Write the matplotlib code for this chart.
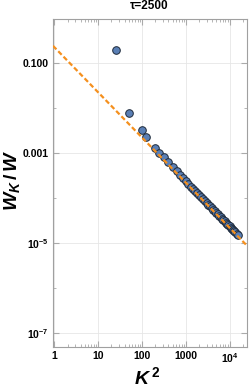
import matplotlib
matplotlib.use("Agg")
import matplotlib.pyplot as plt
import numpy as np
from matplotlib.ticker import FixedLocator, LogLocator, NullFormatter

plt.rcParams["font.family"] = ["Liberation Sans", "DejaVu Sans"]
plt.rcParams["mathtext.fontset"] = "custom"
plt.rcParams["mathtext.it"] = "Liberation Sans:bold:italic"
plt.rcParams["mathtext.rm"] = "Liberation Sans:bold"
plt.rcParams["mathtext.bf"] = "Liberation Sans:bold"

# data
k2 = [25, 50, 100, 125, 200, 250, 325, 400, 500, 625, 725, 850, 1000, 1150,
      1300, 1450, 1600, 1800, 2000, 2250, 2500, 2750, 3000, 3300, 3600, 3900,
      4250, 4600, 5000, 5400, 5800, 6250, 6700, 7200, 7700, 8200, 8800, 9400,
      10000, 10600, 11300, 12000, 12700, 13500, 14400, 15400]
wk = [0.19, 0.0076, 0.0033, 0.0022, 0.0013, 0.00098, 0.0008, 0.00062, 0.00048,
      0.00039, 0.00033, 0.00028, 0.00024, 0.00021, 1.8e-4, 1.6e-4, 1.45e-4,
      1.3e-4, 1.17e-4, 1.04e-4, 9.3e-5, 8.5e-5, 7.8e-5, 7.1e-5, 6.5e-5, 6.0e-5,
      5.5e-5, 5.1e-5, 4.7e-5, 4.35e-5, 4.05e-5, 3.75e-5, 3.5e-5, 3.25e-5,
      3.05e-5, 2.85e-5, 2.65e-5, 2.5e-5, 2.35e-5, 2.2e-5, 2.07e-5, 1.95e-5,
      1.84e-5, 1.73e-5, 1.62e-5, 1.5e-5]
fit_amp = 0.22
fit_slope = -1.0
title = "\u03c4=2500"
xticks = [1, 10, 100, 1000, 1e4]
xlabels = ["1", "10", "100", "1000", "$\\mathrm{10^4}$"]
yticks = [0.1, 0.001, 1e-5, 1e-7]
ylabels = ["0.100", "0.001", "$\\mathrm{10^{-5}}$", "$\\mathrm{10^{-7}}$"]

W, H = 249, 389
fig = plt.figure(figsize=(W / 100, H / 100), dpi=100)
ax = fig.add_axes([53 / W, 1 - 347 / H, 194 / W, 328 / H])

xmin, xmax = 0.93, 2.5e4
xs = np.array([xmin, xmax])
ax.plot(xs, fit_amp * xs ** fit_slope, color="#f5901e", lw=1.6, ls=(0, (2.2, 1.2)), zorder=3)
ax.scatter(k2, wk, s=30, color="#5a7fb5", edgecolor="#1e2a3a", linewidth=0.7, zorder=2)

ax.set_xscale("log")
ax.set_yscale("log")
ax.set_xlim(xmin, xmax)
ax.set_ylim(5e-8, 0.93)

ax.xaxis.set_major_locator(FixedLocator(xticks))
ax.set_xticklabels(xlabels)
ax.xaxis.set_minor_locator(LogLocator(base=10, subs=np.arange(2, 10)))
ax.xaxis.set_minor_formatter(NullFormatter())
ax.yaxis.set_major_locator(FixedLocator(yticks))
ax.set_yticklabels(ylabels)
ax.yaxis.set_minor_locator(FixedLocator([1e-2, 1e-4, 1e-6]))
ax.yaxis.set_minor_formatter(NullFormatter())

ax.grid(True, which="major", color="#e6e6e6", lw=0.6)
ax.tick_params(which="both", direction="in", top=True, right=True, color="#aaaaaa",
               labelsize=7.5, pad=3)
ax.tick_params(which="major", length=4)
ax.tick_params(which="minor", length=2)
for lbl in ax.get_xticklabels() + ax.get_yticklabels():
    lbl.set_fontweight("bold")
for s in ax.spines.values():
    s.set_color("#a0a0a0")

fig.text(149 / W, 1 - 6 / H, title, fontsize=8.5, fontweight="bold", ha="center", va="center")
fig.text(147 / W, 1 - 377 / H, "$K^{\\,2}$", fontsize=14, ha="center", va="center")
fig.text(12 / W, 1 - 180 / H, "$W_K\\,/\\,W$", fontsize=14, ha="center", va="center",
         rotation=90)

fig.savefig("out.png", dpi=100)
